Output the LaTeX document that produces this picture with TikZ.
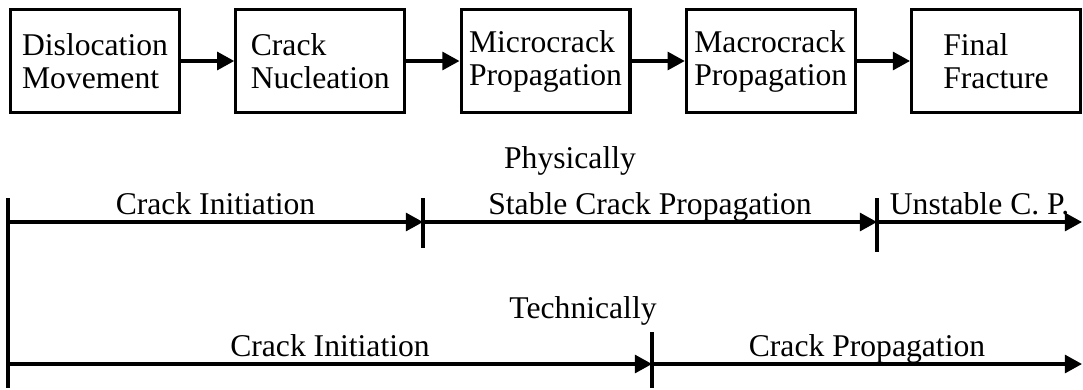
\documentclass[tikz,border=0pt]{standalone}
\usepackage{fontspec}
\setmainfont{Liberation Serif}
\usetikzlibrary{positioning, arrows.meta}
\tikzstyle{diagram} = [x = 0.025cm, y = -0.025cm, line width = 0.08cm, font = \fontsize{22.5}{23.5}\selectfont]
\tikzstyle{stageBox} = [draw, minimum width = 4.22cm, minimum height = 2.575cm, align = left, inner sep = 2pt]
\tikzstyle{flowArrow} = [-{Triangle[length = 0.43cm, width = 0.45cm]}]
\tikzstyle{phaseText} = [midway, anchor = base, yshift = 0.2cm, inner sep = 0pt]
\tikzstyle{viewText} = [anchor = base, inner sep = 0pt]
\newcommand{\phaseTick}[3]{\draw (#1) ++(0,-#2) -- ++(0,#2+#3);}

\begin{document}
\begin{tikzpicture}[diagram]
  \useasboundingbox (0,0) rectangle (1083,389);

  % stages
  \node [stageBox] (dislocation) at (95,61) {Dislocation\\Movement};
  \node [stageBox, right = 1.33cm of dislocation] (nucleation) {Crack\\Nucleation};
  \node [stageBox, right = 1.33cm of nucleation] (microcrack) {Microcrack\\Propagation};
  \node [stageBox, right = 1.33cm of microcrack] (macrocrack) {Macrocrack\\Propagation};
  \node [stageBox, right = 1.33cm of macrocrack] (fracture) {Final\\Fracture};
  \draw [flowArrow] (dislocation) -- (nucleation);
  \draw [flowArrow] (nucleation) -- (microcrack);
  \draw [flowArrow] (microcrack) -- (macrocrack);
  \draw [flowArrow] (macrocrack) -- (fracture);

  % physically
  \node [viewText] (physically) at (570,168) {Physically};
  \coordinate (physStart) at (8,222);
  \coordinate (physInit) at (423,222);
  \coordinate (physStable) at (877,222);
  \coordinate (physEnd) at (1082,222);
  \draw [flowArrow] (physStart) -- (physInit) node [phaseText] {Crack Initiation};
  \draw [flowArrow] (physInit) -- (physStable) node [phaseText] {Stable Crack Propagation};
  \draw [flowArrow] (physStable) -- (physEnd) node [phaseText] {Unstable C. P.};
  \phaseTick{physInit}{24}{26}
  \phaseTick{physStable}{24}{30}

  % technically
  \node [viewText] (technically) at (583,318) {Technically};
  \coordinate (techStart) at (8,364);
  \coordinate (techInit) at (652,364);
  \coordinate (techEnd) at (1082,364);
  \draw [flowArrow] (techStart) -- (techInit) node [phaseText] {Crack Initiation};
  \draw [flowArrow] (techInit) -- (techEnd) node [phaseText] {Crack Propagation};
  \phaseTick{techInit}{32}{24}

  \draw (physStart) ++(0,-24) -- (8,388);
\end{tikzpicture}
\end{document}
